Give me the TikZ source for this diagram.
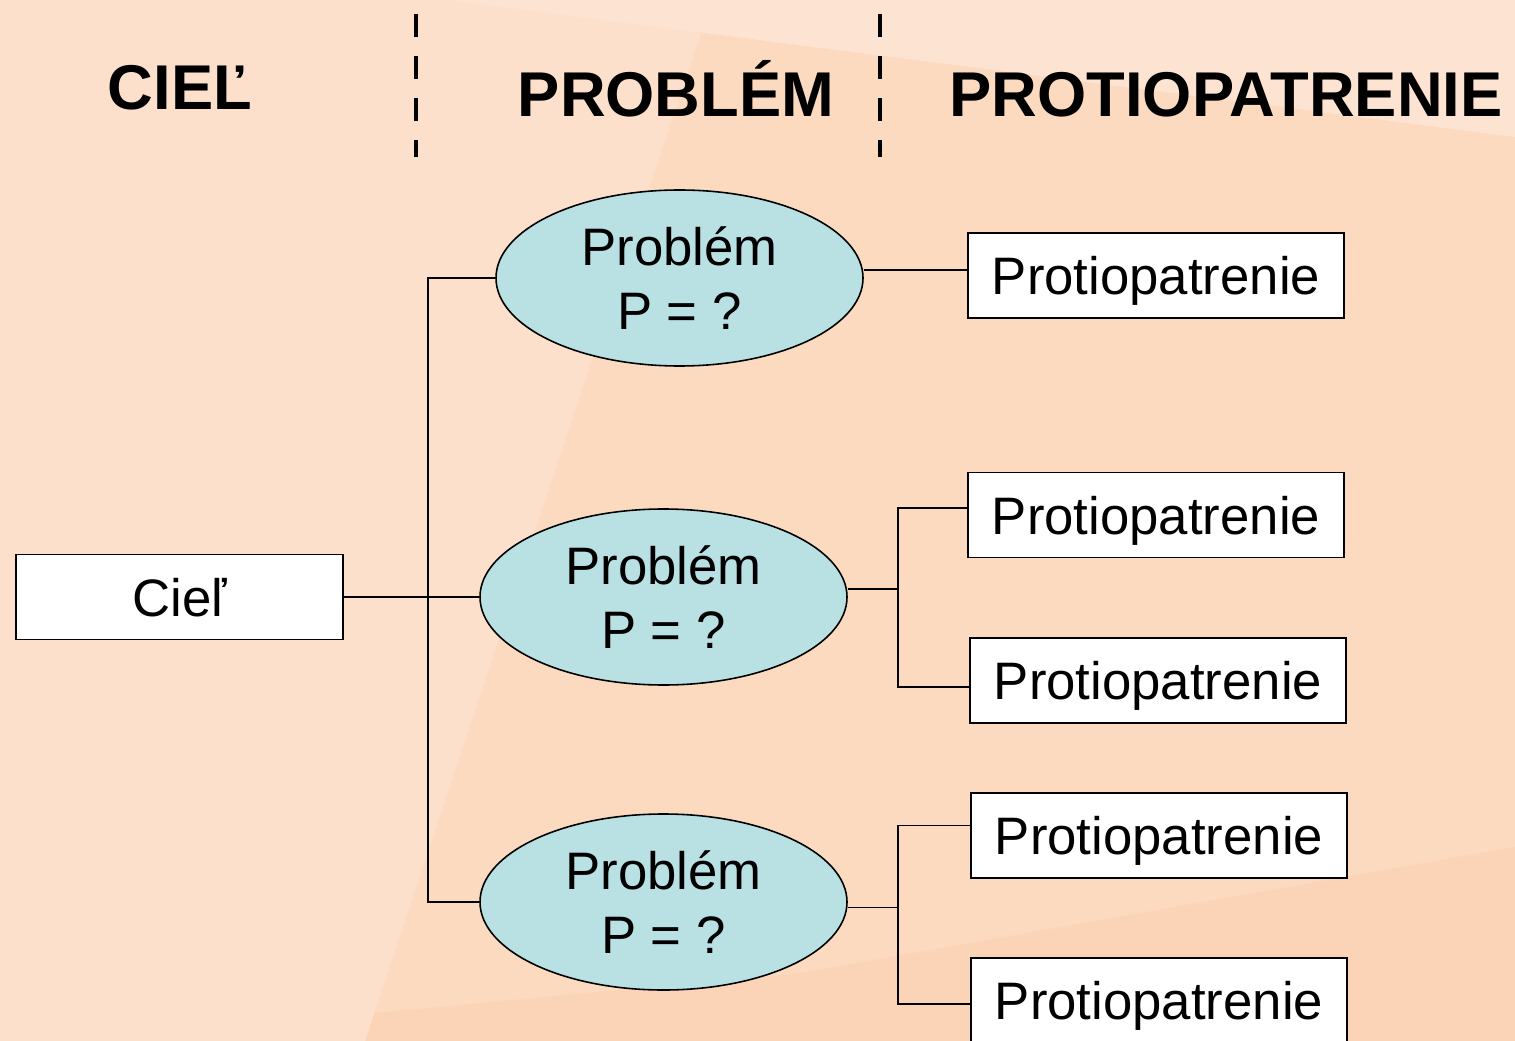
\documentclass[tikz,border=0pt]{standalone}
\usepackage{fontspec}
\setmainfont{Liberation Sans}
\usetikzlibrary{shapes.geometric}

\definecolor{peach}{HTML}{FCDAC0}
\definecolor{peachlight}{HTML}{FDE0CC}
\definecolor{peachpale}{HTML}{FDE4D2}
\definecolor{peachdark}{HTML}{FBD3B6}
\definecolor{probblue}{HTML}{B9E0E3}

\tikzset{
  goalbox/.style={draw=black, fill=white, line width=0.9pt, minimum width=65.4mm,
    minimum height=17mm, inner sep=0pt, text height=22pt, text depth=0pt,
    font=\fontsize{30}{36}\selectfont},
  measurebox/.style={goalbox, minimum width=75.2mm},
  problem/.style={ellipse, draw=black, fill=probblue, line width=0.9pt,
    minimum width=73.4mm, minimum height=35.2mm, inner sep=0pt, align=center,
    font=\fontsize{30}{36}\selectfont},
  heading/.style={anchor=base, inner sep=0pt, font=\fontsize{36}{43}\selectfont\bfseries},
  link/.style={black, line width=0.7pt},
  divider/.style={black, line width=2pt, dash pattern=on 13.1pt off 10.8pt}
}

\begin{document}
\begin{tikzpicture}[x=0.2mm, y=-0.2mm]
	\useasboundingbox (0,0) rectangle (1515,1041);
	\clip (0,0) rectangle (1515,1041);

	% background
	\fill[peach] (0,0) rectangle (1515,1041);
	\fill[peachdark] (0,1041) -- (300,1020) -- (800,973) -- (1515,847) -- (1515,1041) -- cycle;
	\fill[peachlight] (0,0) -- (712,0) -- (365,1041) -- (0,1041) -- cycle;
	\fill[peachpale] (448,0) -- (1515,0) -- (1515,137) -- cycle;

	% headings
	\node[heading] (hgoal) at (180,110) {CIEĽ};
	\node[heading] (hprob) at (676,117) {PROBLÉM};
	\node[heading] (hmeas) at (1226,117) {PROTIOPATRENIE};
	\draw[divider] (416,14) -- (416,157);
	\draw[divider] (880,14) -- (880,157);

	% nodes
	\node[goalbox] (ciel) at (179.5,597) {Cieľ};

	\node[problem] (prob1) at (679.5,278) {Problém\\P = ?};
	\node[problem] (prob2) at (663.5,597) {Problém\\P = ?};
	\node[problem] (prob3) at (663.5,902) {Problém\\P = ?};

	\node[measurebox] (meas1) at (1156,275.5) {Protiopatrenie};
	\node[measurebox] (meas2) at (1156,515) {Protiopatrenie};
	\node[measurebox] (meas3) at (1158,680.5) {Protiopatrenie};
	\node[measurebox] (meas4) at (1159,835.5) {Protiopatrenie};
	\node[measurebox] (meas5) at (1159,1000.5) {Protiopatrenie};

	% connectors
	\coordinate (bus) at (428,597);
	\draw[link] (ciel) -- (prob2);
	\draw[link] (prob1.west) -| (bus) |- (prob3.west);

	\coordinate (in1) at ([yshift=3.1pt]meas1.west);
	\draw[link] (in1 -| prob1.east) -- (in1);

	\coordinate (bus2) at ([yshift=4.5pt]prob2.east -| 898,0);
	\coordinate (in2) at ([yshift=4pt]meas2.west);
	\coordinate (in3) at ([yshift=-3.7pt]meas3.west);
	\draw[link] (bus2 -| prob2.east) -- (bus2);
	\draw[link] (in2) -| (bus2) |- (in3);

	\coordinate (bus3) at ([yshift=-3.2pt]prob3.east -| 898,0);
	\coordinate (in4) at ([yshift=5.6pt]meas4.west);
	\coordinate (in5) at ([yshift=-2pt]meas5.west);
	\draw[link] (bus3 -| prob3.east) -- (bus3);
	\draw[link] (in4) -| (bus3) |- (in5);
\end{tikzpicture}
\end{document}
